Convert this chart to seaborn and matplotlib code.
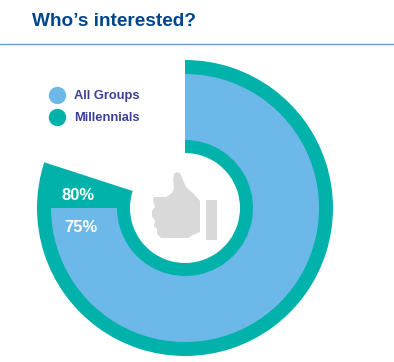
import matplotlib
matplotlib.use('Agg')
import matplotlib.pyplot as plt
from matplotlib.lines import Line2D
from matplotlib.patches import Polygon, Rectangle
import seaborn as sns

# =============================================
# data
groups = ['All Groups', 'Millennials']
interested = [75, 80]
pctLabels = ['75%', '80%']
titleText = 'Who\u2019s interested?'

# =============================================
# plotting parameters
W, H = 394, 362
cx, cy, rOuter = 185, 208, 148   # donut centre / radius in image pixels
rTealIn, rBlueIn, rBlueOut = 55, 68, 134

blue = '#6CB8E8'
teal = '#00B2A9'
navy = '#00468C'
purple = '#3B3F98'
ruleCol = '#6A97CC'
grey = '#D9D9D9'

sns.set_theme(style='white')
plt.rcParams['font.family'] = ['Liberation Sans', 'DejaVu Sans']
palette = sns.color_palette([blue, teal])

fig = plt.figure(figsize=(W / 100, H / 100), dpi=100, facecolor='white')

# overlay in pixel coordinates for title, rule
bg = fig.add_axes([0, 0, 1, 1])
bg.set_xlim(0, W)
bg.set_ylim(H, 0)
bg.axis('off')

# donut
ax = fig.add_axes([(cx - rOuter) / W, 1 - (cy + rOuter) / H, 2 * rOuter / W, 2 * rOuter / H])
ax.pie([interested[1], 100 - interested[1]], colors=[palette[1], 'none'], radius=1,
       startangle=90, counterclock=False,
       wedgeprops=dict(width=(rOuter - rTealIn) / rOuter, linewidth=0))
ax.pie([interested[0], 100 - interested[0]], colors=[palette[0], 'none'], radius=rBlueOut / rOuter,
       startangle=90, counterclock=False,
       wedgeprops=dict(width=(rBlueOut - rBlueIn) / rOuter, linewidth=0))
ax.set_xlim(-1, 1)
ax.set_ylim(-1, 1)

# title + rule
bg.text(32, 21, titleText, color=navy, fontsize=13.7, fontweight='bold', va='center', ha='left')
bg.plot([0, W], [44, 44], color=ruleCol, lw=1)

# legend
handles = [Line2D([], [], marker='o', linestyle='none', markersize=12.5, color=palette[i],
                  markeredgewidth=0) for i in range(2)]
leg = fig.legend(handles, groups, loc='upper left', bbox_to_anchor=(44 / W, 1 - 90 / H),
                 frameon=False, prop=dict(size=9.3, weight='bold'), labelcolor=purple,
                 handletextpad=0.3, labelspacing=0.78, borderpad=0, borderaxespad=0)

# percent labels on top of the donut
txt = fig.add_axes([0, 0, 1, 1])
txt.set_xlim(0, W)
txt.set_ylim(H, 0)
txt.axis('off')
txt.text(62, 195.5, pctLabels[1], color='white', fontsize=12, fontweight='bold', va='center')
txt.text(64, 227.5, pctLabels[0], color='white', fontsize=12, fontweight='bold', va='center')

# thumb icon
thumb = [(177, 172), (180, 173), (183, 180), (186, 187), (193, 193), (200, 201),
         (200, 232), (193, 235), (188, 238), (161, 238), (157, 234), (157, 229), (154, 226),
         (155, 220), (152, 217), (152, 211), (155, 207), (153, 200), (154, 197), (166, 197),
         (172, 193), (174, 188), (173, 180), (174, 174)]
txt.add_patch(Polygon(thumb, closed=True, facecolor=grey, edgecolor='none'))
txt.add_patch(Rectangle((206, 200), 11, 40, facecolor=grey, edgecolor='none'))

plt.savefig('out.png', dpi=100)
plt.close()
